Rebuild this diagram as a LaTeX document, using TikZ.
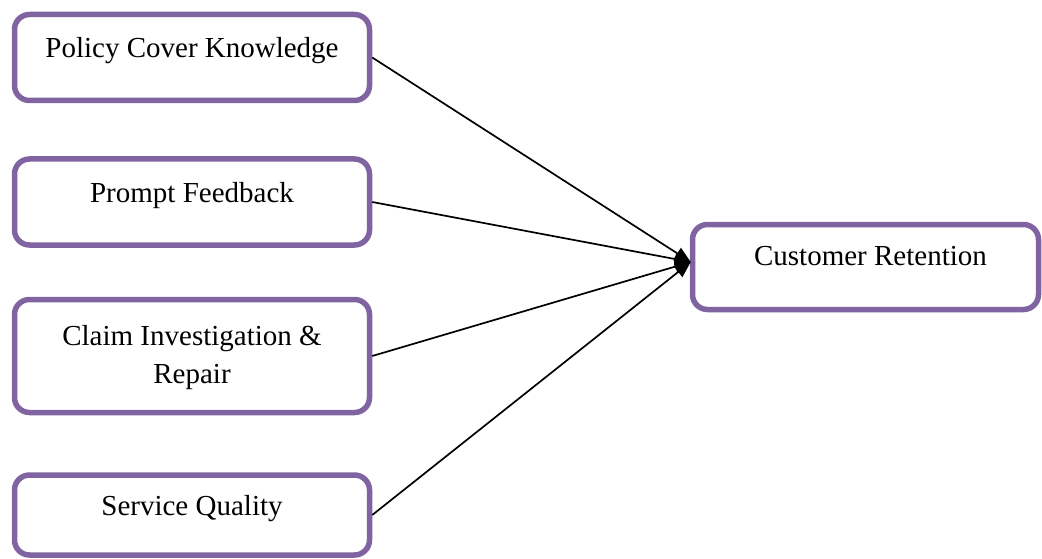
\documentclass[tikz,border=0pt]{standalone}
\usepackage{fontspec}
\setmainfont{Liberation Serif}
\usepackage{xcolor}
\definecolor{boxpurple}{HTML}{8064A2}
\usetikzlibrary{positioning,arrows.meta}

\begin{document}
\begin{tikzpicture}[x=1pt,y=-1pt,
  box/.style={draw=boxpurple,line width=5.5pt,rounded corners=15pt,
    minimum width=355pt,inner sep=0pt,fill=white},
  lbl/.style={font=\fontsize{29}{38}\selectfont,align=center,anchor=base,inner sep=0pt},
  link/.style={line width=1.7pt,-{Triangle[length=16pt,width=13pt]}}]
\useasboundingbox (0,0) rectangle (1042,559);
% factors on the left
\node[box,minimum height=86pt] (pck) at (192,57.5) {};
\node[box,minimum height=86pt] (pf) at (192,202) {};
\node[box,minimum height=113pt] (cir) at (192,356) {};
\node[box,minimum height=80pt] (sq) at (192,515) {};
% outcome on the right
\node[box,minimum width=346pt,minimum height=85pt] (cr) at (865.5,267) {};
\node[lbl] (pcktext) at (pck.center) {Policy Cover Knowledge};
\node[lbl] (pftext) at (pf.center) {Prompt Feedback};
\node[lbl] (cirtext) at ([yshift=-27pt]cir.center) {Claim Investigation \&\\Repair};
\node[lbl] (sqtext) at (sq.center) {Service Quality};
\node[lbl] (crtext) at ([xshift=5pt,yshift=2pt]cr.center) {Customer Retention};
\coordinate (tip) at ([xshift=1pt,yshift=5pt]cr.west);
\draw[link] (pck.east) -- (tip);
\draw[link] (pf.east) -- (tip);
\draw[link] (cir.east) -- (tip);
\draw[link] (sq.east) -- (tip);
\end{tikzpicture}
\end{document}
